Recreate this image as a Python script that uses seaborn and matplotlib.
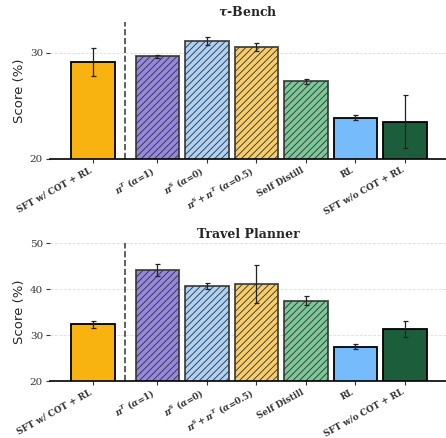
import matplotlib
matplotlib.use("Agg")
import matplotlib.pyplot as plt
import pandas as pd
import seaborn as sns

# data
labels = ["SFT w/ COT + RL", r"$\pi^T$ ($\alpha$=1)", r"$\pi^S$ ($\alpha$=0)",
          r"$\pi^S + \pi^T$ ($\alpha$=0.5)", "Self Distill", "RL", "SFT w/o COT + RL"]
positions = [0, 1.3, 2.3, 3.3, 4.3, 5.3, 6.3]
tau_scores = [29.1, 29.65, 31.1, 30.55, 27.3, 23.9, 23.5]
tau_err = [1.3, 0.15, 0.4, 0.4, 0.2, 0.25, 2.5]
travel_scores = [32.3, 44.1, 40.7, 41.1, 37.5, 27.5, 31.3]
travel_err = [0.7, 1.35, 0.7, 4.2, 0.9, 0.6, 1.7]

colors = ["#F9B310", "#8B7BDE", "#A4CDF7", "#F8C95A", "#6EC28E", "#76BBFB", "#1C5E3B"]
hatched = [False, True, True, True, True, False, False]

sns.set_style("white")
plt.rcParams["mathtext.fontset"] = "dejavuserif"
plt.rcParams["mathtext.default"] = "bfit"
plt.rcParams["hatch.linewidth"] = 0.7

fig = plt.figure(figsize=(4.46, 4.38), dpi=100)
ax_top = fig.add_axes([0.112, 0.637, 0.888, 0.313])
ax_bot = fig.add_axes([0.112, 0.130, 0.888, 0.315])


def draw_panel(ax, scores, errs, title, ylim, yticks):
    df = pd.DataFrame({"pos": positions, "score": scores})
    sns.barplot(data=df, x="pos", y="score", native_scale=True, width=0.88,
                errorbar=None, color=colors[0], ax=ax)
    for patch, c, h in zip(ax.patches, colors, hatched):
        patch.set_facecolor(c)
        if h:
            patch.set_hatch("/////")
            patch.set_edgecolor("#333333")
            patch.set_alpha(0.9)
        else:
            patch.set_edgecolor("black")
        patch.set_linewidth(1.3)
    ax.errorbar(positions, scores, yerr=errs, fmt="none", ecolor="#222222",
                elinewidth=0.9, capsize=1.8, capthick=0.9)
    ax.axvline(0.65, color="#444444", linestyle="--", linewidth=1.2)
    ax.set_ylim(*ylim)
    ax.set_xlim(-0.87, 7.13)
    ax.set_yticks(yticks)
    ax.set_yticklabels([str(t) for t in yticks], family="DejaVu Serif",
                       fontsize=7.5, color="#333333")
    ax.set_xticks(positions)
    ax.set_xticklabels(labels, rotation=29, ha="right",
                       family="DejaVu Serif", fontweight="bold", fontsize=6.3)
    ax.tick_params(axis="both", which="both", length=3, width=0.8,
                   bottom=True, left=True, colors="#333333")
    ax.tick_params(axis="x", pad=1.5)
    ax.tick_params(axis="y", pad=2)
    ax.yaxis.grid(True, linestyle="--", color="#dddddd", linewidth=0.6)
    ax.set_axisbelow(True)
    for s in ["top", "right", "left"]:
        ax.spines[s].set_visible(False)
    ax.spines["bottom"].set_color("black")
    ax.spines["bottom"].set_linewidth(1.2)
    ax.set_xlabel("")
    ax.set_ylabel("Score (%)", fontsize=9.5, family="DejaVu Sans", labelpad=3)
    ax.set_title(title, family="DejaVu Serif", fontweight="bold", fontsize=9, pad=4)


draw_panel(ax_top, tau_scores, tau_err, r"$\tau$-Bench", (20, 32.9), [20, 30])
draw_panel(ax_bot, travel_scores, travel_err, "Travel Planner", (20, 50), [20, 30, 40, 50])

fig.savefig("out.png", dpi=100)
